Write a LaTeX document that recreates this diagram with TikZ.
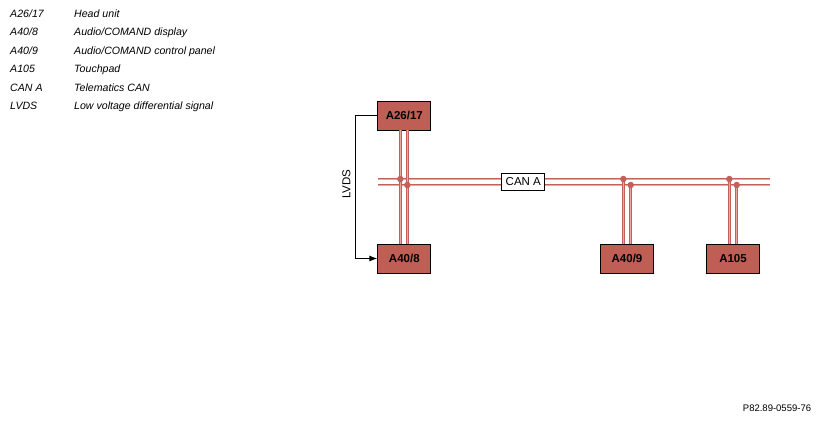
\documentclass[tikz,border=0pt]{standalone}
\usepackage{fontspec}
\setmainfont{Liberation Sans}
\usetikzlibrary{arrows.meta}
\definecolor{boxred}{HTML}{BF5E55}
\definecolor{busred}{HTML}{C4605A}
\definecolor{buslight}{HTML}{E8A8A0}
\tikzset{
  ecu/.style={draw=black, line width=0.9pt, fill=boxred, minimum width=53pt, minimum height=29pt, inner sep=0pt, font=\fontsize{11.5}{12}\selectfont\bfseries},
  bus/.style={draw=busred, line width=0.9pt, double=buslight, double distance=0.7pt},
  junc/.style={circle, fill=busred, draw=none, inner sep=0pt, minimum size=6.5pt},
  legk/.style={anchor=base west, inner sep=0pt, font=\fontsize{10.6}{12}\selectfont\itshape},
  lvds/.style={draw=black, line width=0.9pt},
}
\begin{document}
\begin{tikzpicture}[x=1pt,y=-1pt]
\useasboundingbox (0,0) rectangle (818,421);
% legend
\node[legk] (k1) at (10,17.0) {A26/17};
\node[legk] (t1) at (74,17.0) {Head unit};
\node[legk] (k2) at (10,35.5) {A40/8};
\node[legk] (t2) at (74,35.5) {Audio/COMAND display};
\node[legk] (k3) at (10,54.0) {A40/9};
\node[legk] (t3) at (74,54.0) {Audio/COMAND control panel};
\node[legk] (k4) at (10,72.5) {A105};
\node[legk] (t4) at (74,72.5) {Touchpad};
\node[legk] (k5) at (10,91.0) {CAN A};
\node[legk] (t5) at (74,91.0) {Telematics CAN};
\node[legk] (k6) at (10,109.5) {LVDS};
\node[legk] (t6) at (74,109.5) {Low voltage differential signal};
% bus endpoints
\coordinate (hl1) at (378,179);
\coordinate (hr1) at (770,179);
\coordinate (hl2) at (378,185);
\coordinate (hr2) at (770,185);
% CAN lines
\draw[bus] (hl1) -- (hr1);
\draw[bus] (hl2) -- (hr2);
% ECUs
\node[ecu] (a2617) at (404.3,115.5) {A26/17};
\node[ecu] (a408) at (404.3,258.5) {A40/8};
\node[ecu] (a409) at (627,258.8) {A40/9};
\node[ecu] (a105) at (733,258.8) {A105};
% junction positions
\coordinate (j1) at (400.3,179);
\coordinate (j2) at (407.3,185);
\coordinate (j3) at (623.3,179);
\coordinate (j4) at (630.7,185);
\coordinate (j5) at (729.3,179);
\coordinate (j6) at (736.7,185);
% verticals
\draw[bus] (a2617.south -| j1) -- (a408.north -| j1);
\draw[bus] (a2617.south -| j2) -- (a408.north -| j2);
\draw[bus] (j3) -- (a409.north -| j3);
\draw[bus] (j4) -- (a409.north -| j4);
\draw[bus] (j5) -- (a105.north -| j5);
\draw[bus] (j6) -- (a105.north -| j6);
\node[junc] (d1) at (j1) {};
\node[junc] (d2) at (j2) {};
\node[junc] (d3) at (j3) {};
\node[junc] (d4) at (j4) {};
\node[junc] (d5) at (j5) {};
\node[junc] (d6) at (j6) {};
% CAN A label
\node[draw=black, line width=0.9pt, fill=white, minimum width=43pt, minimum height=17pt, inner sep=0pt, font=\fontsize{11.5}{12}\selectfont] (cana) at (523.3,182) {CAN A};
% LVDS
\coordinate (lv) at (355,0);
\draw[lvds, -{Latex[length=8pt,width=6pt]}] (a2617.west) -- (a2617.west -| lv) -- (a408.west -| lv) -- (a408.west);
\node[rotate=90, font=\fontsize{11.5}{12}\selectfont, inner sep=0pt] (lvdsl) at (346.5,184) {LVDS};
% figure number
\node[inner sep=0pt, font=\fontsize{9.5}{10}\selectfont] (fig) at (777,408) {P82.89-0559-76};
\end{tikzpicture}
\end{document}
